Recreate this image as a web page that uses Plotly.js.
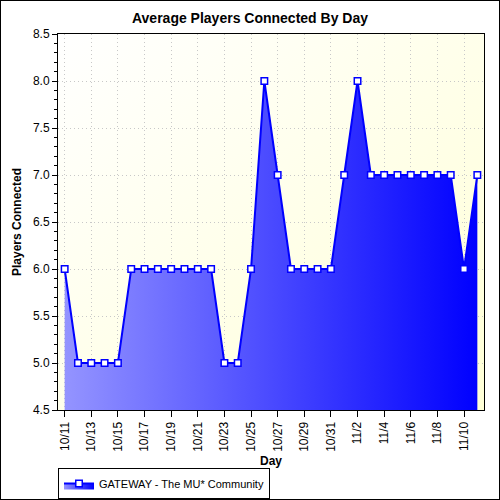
<!DOCTYPE html>
<html>
<head>
<meta charset="utf-8">
<script src="https://cdn.plot.ly/plotly-3.0.1.min.js"></script>
<style>
    body { margin: 0; background: #ffffff; }
    #chart { width: 498px; height: 498px; border: 1px solid #000000; }
</style>
</head>
<body>
<div id="chart"></div>
<script>
// values, one per day
var days = [ '10/11', '10/12', '10/13', '10/14', '10/15', '10/16', '10/17', '10/18', '10/19', '10/20',
             '10/21', '10/22', '10/23', '10/24', '10/25', '10/26', '10/27', '10/28', '10/29', '10/30',
             '10/31', '11/1', '11/2', '11/3', '11/4', '11/5', '11/6', '11/7', '11/8', '11/9',
             '11/10', '11/11' ];
var players = [ 6, 5, 5, 5, 5, 6, 6, 6, 6, 6,
                6, 6, 5, 5, 6, 8, 7, 6, 6, 6,
                6, 7, 8, 7, 7, 7, 7, 7, 7, 7,
                6, 7 ];
var seriesName = 'GATEWAY - The MU* Community';
var labelDays = days.filter( function ( d, i ) { return i % 2 === 0; } );

var fontName = '"Liberation Sans", Arial, sans-serif';

//Plot background is a soft white to yellow sweep, done with an svg data image
var bgSvg = '<svg xmlns="http://www.w3.org/2000/svg" width="100" height="100" preserveAspectRatio="none">' +
    '<defs><linearGradient id="g" x1="0" y1="0" x2="1" y2="1">' +
    '<stop offset="0" stop-color="#ffffff"/><stop offset="1" stop-color="#ffffd6"/>' +
    '</linearGradient></defs><rect width="100" height="100" fill="url(#g)"/></svg>';

var trace = {
    x: days,
    y: players,
    name: seriesName,
    type: 'scatter',
    mode: 'lines+markers',
    fill: 'tozeroy',
    fillgradient: {
        type: 'horizontal',
        colorscale: [ [ 0, '#9494ff' ], [ 1, '#0000ff' ] ]
    },
    line: { color: '#0000ff', width: 2 },
    marker: { symbol: 'square', size: 6.5, color: '#ffffff', line: { color: '#0000ff', width: 1.5 } },
    showlegend: true
};

var gridStyle = '1px,3px';

var layout = {
    width: 498,
    height: 498,
    margin: { l: 57, r: 15, t: 33, b: 89 },
    paper_bgcolor: '#ffffff',
    plot_bgcolor: 'rgba(0,0,0,0)',
    font: { family: fontName, size: 12, color: '#000000' },
    title: {
        text: 'Average Players Connected By Day',
        font: { family: fontName, size: 14, weight: 'bold', color: '#000000' },
        x: 0.5, xref: 'container',
        y: 1 - 17 / 498, yref: 'container', yanchor: 'middle'
    },
    images: [ {
        source: 'data:image/svg+xml;charset=utf-8,' + encodeURIComponent( bgSvg ),
        xref: 'paper', yref: 'paper',
        x: 0, y: 1, sizex: 1, sizey: 1,
        xanchor: 'left', yanchor: 'top',
        sizing: 'stretch', layer: 'below'
    } ],
    xaxis: {
        type: 'category',
        range: [ -0.5, days.length - 0.5 ],
        tickmode: 'array',
        tickvals: labelDays,
        ticktext: labelDays,
        tickangle: -90,
        ticks: 'outside', ticklen: 6, tickcolor: '#000000',
        showline: true, linecolor: '#000000', linewidth: 1, mirror: true,
        showgrid: true, gridcolor: '#c8c8c8', griddash: gridStyle,
        zeroline: false, fixedrange: true, automargin: false,
        title: { text: 'Day', standoff: 17, font: { family: fontName, size: 12, weight: 'bold' } }
    },
    // minor day ticks under the bottom axis
    xaxis2: {
        overlaying: 'x', anchor: 'y', side: 'bottom',
        type: 'linear', range: [ -0.5, days.length - 0.5 ],
        tickmode: 'linear', tick0: 0, dtick: 1,
        ticks: 'outside', ticklen: 3, tickcolor: '#000000', automargin: false,
        showticklabels: false, showgrid: false, showline: false, zeroline: false, fixedrange: true
    },
    // inside ticks on the top edge
    xaxis3: {
        overlaying: 'x', anchor: 'y', side: 'top',
        type: 'linear', range: [ -0.5, days.length - 0.5 ],
        tickmode: 'linear', tick0: 0, dtick: 2,
        ticks: 'inside', ticklen: 5, tickcolor: '#000000', automargin: false,
        showticklabels: false, showgrid: false, showline: false, zeroline: false, fixedrange: true
    },
    yaxis: {
        range: [ 4.5, 8.5 ],
        tickmode: 'linear', tick0: 4.5, dtick: 0.5, tickformat: '.1f',
        ticks: 'outside', ticklen: 5, tickcolor: '#000000',
        minor: { tickmode: 'linear', tick0: 4.5, dtick: 0.1, ticks: 'outside', ticklen: 3, tickcolor: '#000000', showgrid: false },
        showline: true, linecolor: '#000000', linewidth: 1, mirror: true,
        showgrid: true, gridcolor: '#c8c8c8', griddash: gridStyle,
        zeroline: false, fixedrange: true, automargin: false,
        title: { text: 'Players Connected', standoff: 8, font: { family: fontName, size: 12, weight: 'bold' } }
    },
    // inside ticks on the right edge
    yaxis2: {
        overlaying: 'y', anchor: 'x', side: 'right',
        range: [ 4.5, 8.5 ],
        tickmode: 'linear', tick0: 4.5, dtick: 0.5,
        ticks: 'inside', ticklen: 5, tickcolor: '#000000', automargin: false,
        minor: { tickmode: 'linear', tick0: 4.5, dtick: 0.1, ticks: 'inside', ticklen: 3, tickcolor: '#000000', showgrid: false },
        showticklabels: false, showgrid: false, showline: false, zeroline: false, fixedrange: true
    },
    showlegend: true,
    legend: {
        orientation: 'h',
        xref: 'container', x: 57 / 498, xanchor: 'left',
        yref: 'container', y: 1 - 467 / 498, yanchor: 'top',
        bgcolor: '#ffffff',
        bordercolor: '#000000', borderwidth: 1,
        font: { family: fontName, size: 11 },
        itemwidth: 30,
        tracegroupgap: 0
    }
};

Plotly.newPlot( 'chart', [ trace ], layout, { displayModeBar: false, staticPlot: true } );
</script>
</body>
</html>
